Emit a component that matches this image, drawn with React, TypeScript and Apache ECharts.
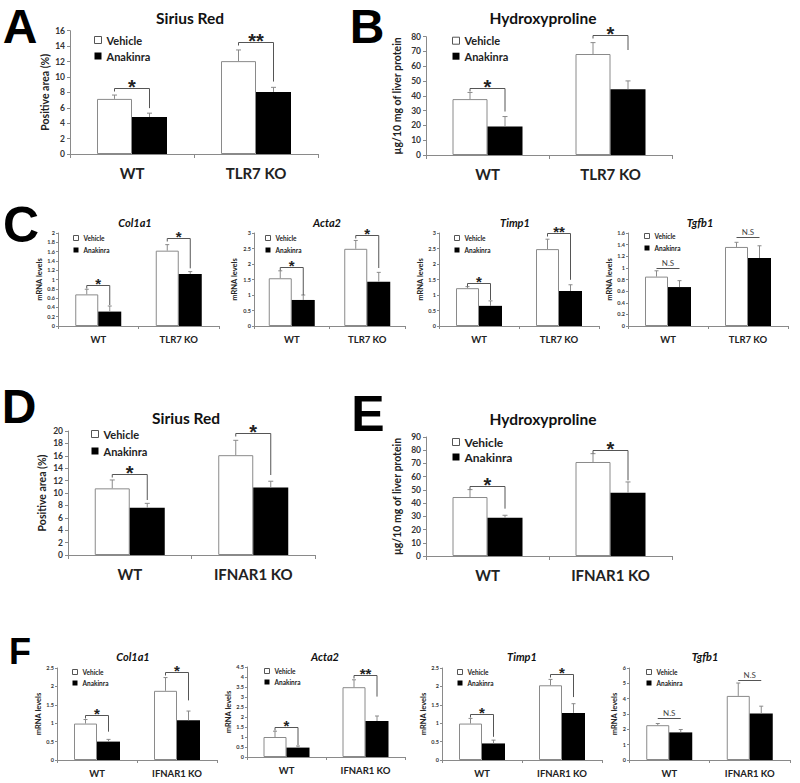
import React, { useEffect, useRef } from "react";
import * as echarts from "echarts";

// ---------- DATA ----------
const groupsTLR7 = ["WT", "TLR7 KO"];
const groupsIFNAR1 = ["WT", "IFNAR1 KO"];
const seriesNames = ["Vehicle", "Anakinra"];

// A – Sirius Red (TLR7)
const aVehicle = [7.15, 12.05];
const aVehicleErr = [0.5, 1.45];
const aAnakinra = [4.8, 8.05];
const aAnakinraErr = [0.5, 0.6];
const aSig = ["*", "**"];
const aSigLevel = [8.6, 14.5];
const aSigDrop = [5.95, 9.4];

// B – Hydroxyproline (TLR7)
const bVehicle = [37.8, 68.3];
const bVehicleErr = [4.5, 7.7];
const bAnakinra = [19.3, 44.5];
const bAnakinraErr = [6.7, 5.6];
const bSig = ["*", "*"];
const bSigLevel = [45.2, 81.1];
const bSigDrop = [29.4, 71];

// C – mRNA (TLR7)
const c1Vehicle = [0.68, 1.62];
const c1VehicleErr = [0.11, 0.13];
const c1Anakinra = [0.31, 1.12];
const c1AnakinraErr = [0.12, 0.05];
const c1Sig = ["*", "*"];
const c1SigLevel = [0.885, 1.89];
const c1SigDrop = [0.45, 1.24];

const c2Vehicle = [1.54, 2.49];
const c2VehicleErr = [0.24, 0.27];
const c2Anakinra = [0.84, 1.43];
const c2AnakinraErr = [0.16, 0.3];
const c2Sig = ["*", "*"];
const c2SigLevel = [1.89, 2.94];
const c2SigDrop = [1.0, 1.87];

const c3Vehicle = [1.22, 2.48];
const c3VehicleErr = [0.05, 0.32];
const c3Anakinra = [0.65, 1.13];
const c3AnakinraErr = [0.16, 0.2];
const c3Sig = ["*", "**"];
const c3SigLevel = [1.4, 3.0];
const c3SigDrop = [0.84, 1.49];

const c4Vehicle = [0.85, 1.36];
const c4VehicleErr = [0.1, 0.08];
const c4Anakinra = [0.67, 1.17];
const c4AnakinraErr = [0.11, 0.21];
const c4Sig = ["N.S", "N.S"];
const c4SigLevel = [1.0, 1.53];
const c4SigDrop = [1.0, 1.53];

// D – Sirius Red (IFNAR1)
const dVehicle = [10.75, 16.1];
const dVehicleErr = [1.35, 2.4];
const dAnakinra = [7.63, 10.9];
const dAnakinraErr = [0.7, 1.0];
const dSig = ["*", "*"];
const dSigLevel = [13.0, 19.7];
const dSigDrop = [8.87, 12.9];

// E – Hydroxyproline (IFNAR1)
const eVehicle = [44.6, 71.1];
const eVehicleErr = [5.6, 6.3];
const eAnakinra = [29, 47.9];
const eAnakinraErr = [1.8, 8.1];
const eSig = ["*", "*"];
const eSigLevel = [52.7, 79.9];
const eSigDrop = [35.8, 57.2];

// F – mRNA (IFNAR1)
const f1Vehicle = [0.99, 1.88];
const f1VehicleErr = [0.11, 0.36];
const f1Anakinra = [0.5, 1.08];
const f1AnakinraErr = [0.06, 0.25];
const f1Sig = ["*", "*"];
const f1SigLevel = [1.22, 2.39];
const f1SigDrop = [0.77, 1.62];

const f2Vehicle = [1.0, 3.49];
const f2VehicleErr = [0.29, 0.37];
const f2Anakinra = [0.47, 1.8];
const f2AnakinraErr = [0.08, 0.25];
const f2Sig = ["*", "**"];
const f2SigLevel = [1.51, 4.11];
const f2SigDrop = [0.59, 3.02];

const f3Vehicle = [0.99, 2.03];
const f3VehicleErr = [0.14, 0.16];
const f3Anakinra = [0.45, 1.28];
const f3AnakinraErr = [0.09, 0.25];
const f3Sig = ["*", "*"];
const f3SigLevel = [1.24, 2.35];
const f3SigDrop = [0.63, 1.71];

const f4Vehicle = [2.27, 4.18];
const f4VehicleErr = [0.11, 0.84];
const f4Anakinra = [1.8, 3.03];
const f4AnakinraErr = [0.19, 0.48];
const f4Sig = ["N.S", "N.S"];
const f4SigLevel = [2.71, 5.2];
const f4SigDrop = [2.71, 5.2];

// Axis settings
const yMaxes = [16, 80, 2, 3, 3, 1.6, 20, 90, 2.5, 4.5, 2.5, 6];
const ySteps = [2, 10, 0.2, 0.5, 0.5, 0.2, 2, 10, 0.5, 0.5, 0.5, 1];
const yNames = [
  "Positive area (%)",
  "µg/10 mg of liver protein",
  "mRNA levels",
  "mRNA levels",
  "mRNA levels",
  "mRNA levels",
  "Positive area (%)",
  "µg/10 mg of liver protein",
  "mRNA levels",
  "mRNA levels",
  "mRNA levels",
  "mRNA levels",
];
const titles = [
  "Sirius Red",
  "Hydroxyproline",
  "Col1a1",
  "Acta2",
  "Timp1",
  "Tgfb1",
  "Sirius Red",
  "Hydroxyproline",
  "Col1a1",
  "Acta2",
  "Timp1",
  "Tgfb1",
];
const panelLetters = ["A", "B", "C", "D", "E", "F"];

type PanelData = {
  groups: string[];
  veh: number[];
  vehErr: number[];
  ana: number[];
  anaErr: number[];
  sig: string[];
  level: number[];
  drop: number[];
};

const panelData: PanelData[] = [
  { groups: groupsTLR7, veh: aVehicle, vehErr: aVehicleErr, ana: aAnakinra, anaErr: aAnakinraErr, sig: aSig, level: aSigLevel, drop: aSigDrop },
  { groups: groupsTLR7, veh: bVehicle, vehErr: bVehicleErr, ana: bAnakinra, anaErr: bAnakinraErr, sig: bSig, level: bSigLevel, drop: bSigDrop },
  { groups: groupsTLR7, veh: c1Vehicle, vehErr: c1VehicleErr, ana: c1Anakinra, anaErr: c1AnakinraErr, sig: c1Sig, level: c1SigLevel, drop: c1SigDrop },
  { groups: groupsTLR7, veh: c2Vehicle, vehErr: c2VehicleErr, ana: c2Anakinra, anaErr: c2AnakinraErr, sig: c2Sig, level: c2SigLevel, drop: c2SigDrop },
  { groups: groupsTLR7, veh: c3Vehicle, vehErr: c3VehicleErr, ana: c3Anakinra, anaErr: c3AnakinraErr, sig: c3Sig, level: c3SigLevel, drop: c3SigDrop },
  { groups: groupsTLR7, veh: c4Vehicle, vehErr: c4VehicleErr, ana: c4Anakinra, anaErr: c4AnakinraErr, sig: c4Sig, level: c4SigLevel, drop: c4SigDrop },
  { groups: groupsIFNAR1, veh: dVehicle, vehErr: dVehicleErr, ana: dAnakinra, anaErr: dAnakinraErr, sig: dSig, level: dSigLevel, drop: dSigDrop },
  { groups: groupsIFNAR1, veh: eVehicle, vehErr: eVehicleErr, ana: eAnakinra, anaErr: eAnakinraErr, sig: eSig, level: eSigLevel, drop: eSigDrop },
  { groups: groupsIFNAR1, veh: f1Vehicle, vehErr: f1VehicleErr, ana: f1Anakinra, anaErr: f1AnakinraErr, sig: f1Sig, level: f1SigLevel, drop: f1SigDrop },
  { groups: groupsIFNAR1, veh: f2Vehicle, vehErr: f2VehicleErr, ana: f2Anakinra, anaErr: f2AnakinraErr, sig: f2Sig, level: f2SigLevel, drop: f2SigDrop },
  { groups: groupsIFNAR1, veh: f3Vehicle, vehErr: f3VehicleErr, ana: f3Anakinra, anaErr: f3AnakinraErr, sig: f3Sig, level: f3SigLevel, drop: f3SigDrop },
  { groups: groupsIFNAR1, veh: f4Vehicle, vehErr: f4VehicleErr, ana: f4Anakinra, anaErr: f4AnakinraErr, sig: f4Sig, level: f4SigLevel, drop: f4SigDrop },
];

// ---------- LAYOUT (positions / sizes, not data) ----------
type Layout = {
  box: [number, number, number, number];
  big: boolean;
  title: [number, number];
  legend: [number, number, number];
  nameGap: number;
};
const layouts: Layout[] = [
  { box: [70, 30.7, 248, 123.3], big: true, title: [190, 18], legend: [96, 40, 16], nameGap: 20 },
  { box: [426, 36.7, 246, 118.3], big: true, title: [543, 18], legend: [454, 40.7, 15.5], nameGap: 24 },
  { box: [58, 233, 161, 93], big: false, title: [135, 222], legend: [75, 238, 12], nameGap: 13 },
  { box: [254, 233, 151, 93], big: false, title: [327, 222], legend: [267, 238, 12], nameGap: 16 },
  { box: [439, 233, 160, 93], big: false, title: [515, 222], legend: [456, 238, 12], nameGap: 14 },
  { box: [628, 233, 160, 93], big: false, title: [700, 222], legend: [646, 236, 12], nameGap: 13 },
  { box: [68, 431, 247, 124], big: true, title: [186, 418], legend: [93, 434, 17], nameGap: 21 },
  { box: [426, 437, 246, 119], big: true, title: [543, 419], legend: [454, 442, 15], nameGap: 24 },
  { box: [57, 668, 160, 92], big: false, title: [133, 656], legend: [74, 672, 11], nameGap: 13 },
  { box: [247, 667, 158, 90], big: false, title: [325, 656], legend: [266, 671, 11], nameGap: 10 },
  { box: [442, 668, 160, 92], big: false, title: [522, 656], legend: [459, 672, 11], nameGap: 13 },
  { box: [629, 668, 161, 92], big: false, title: [705, 656], legend: [648, 672, 11], nameGap: 11 },
];
const letterPos: [number, number, number][] = [
  [20, 26, 48],
  [367, 26, 48],
  [21, 225, 50],
  [19, 406, 48],
  [368, 414, 50],
  [20, 651, 36],
];

const FONT = "Lato, 'Liberation Sans', sans-serif";
const STAR_FONT = "'Liberation Sans', Arial, sans-serif";

function errorRender(side: number, bw: number, cap: number) {
  return (params: any, api: any) => {
    const c = api.value(0);
    const m = api.value(1);
    const e = api.value(2);
    const p0 = api.coord([c, m]);
    const p1 = api.coord([c, m + e]);
    const x = p0[0] + (side * bw) / 2;
    const st = { stroke: "#8a8a8a", lineWidth: 1 };
    return {
      type: "group",
      children: [
        { type: "line", shape: { x1: x, y1: p0[1], x2: x, y2: p1[1] }, style: st },
        { type: "line", shape: { x1: x - cap / 2, y1: p1[1], x2: x + cap / 2, y2: p1[1] }, style: st },
      ],
    };
  };
}

function sigRender(bw: number, labels: string[], big: boolean) {
  return (params: any, api: any) => {
    const c = api.value(0);
    const lvl = api.value(1);
    const drop = api.value(2);
    const pl = api.coord([c, lvl]);
    const y = Math.round(pl[1]) + 0.5;
    const xl = pl[0] - bw / 2;
    const xr = pl[0] + bw / 2;
    const st = { stroke: "#555", lineWidth: 1 };
    const children: any[] = [{ type: "line", shape: { x1: xl, y1: y, x2: xr, y2: y }, style: st }];
    const label = labels[params.dataIndex];
    if (drop < lvl) {
      const pd = api.coord([c, drop]);
      children.push({ type: "line", shape: { x1: xl, y1: y, x2: xl, y2: y + 3 }, style: st });
      children.push({ type: "line", shape: { x1: xr, y1: y, x2: xr, y2: pd[1] }, style: st });
      const fs = big ? 20 : 15;
      children.push({
        type: "text",
        x: pl[0],
        y: y - 5.5 + 0.22 * fs,
        style: {
          text: label,
          font: `bold ${fs}px ${STAR_FONT}`,
          fill: "#222",
          align: "center",
          verticalAlign: "middle",
          textAlign: "center",
          textVerticalAlign: "middle",
        },
      });
    } else {
      children.push({
        type: "text",
        x: pl[0],
        y: y - 2,
        style: {
          text: label,
          font: `8px ${FONT}`,
          fill: "#444",
          align: "center",
          verticalAlign: "bottom",
          textAlign: "center",
          textVerticalAlign: "bottom",
        },
      });
    }
    return { type: "group", children };
  };
}

function buildOption() {
  const grid: any[] = [];
  const xAxis: any[] = [];
  const yAxis: any[] = [];
  const legend: any[] = [];
  const series: any[] = [];
  const graphic: any[] = [];

  panelData.forEach((p, i) => {
    const l = layouts[i];
    const big = l.big;
    const bw = big ? 35 : 23;
    grid.push({
      left: l.box[0],
      top: l.box[1],
      width: l.box[2],
      height: l.box[3],
      containLabel: false,
      outerBoundsMode: "none",
    });
    xAxis.push({
      type: "category",
      gridIndex: i,
      data: p.groups,
      axisLine: { show: true, lineStyle: { color: "#8a8a8a", width: 1 } },
      axisTick: { show: true, length: big ? 4 : 3, lineStyle: { color: "#8a8a8a" } },
      axisLabel: {
        interval: 0,
        fontFamily: FONT,
        fontWeight: "bold",
        fontSize: big ? 15 : 9.5,
        color: "#222",
        margin: big ? 11 : 8,
      },
      splitLine: { show: false },
    });
    yAxis.push({
      type: "value",
      gridIndex: i,
      min: 0,
      max: yMaxes[i],
      interval: ySteps[i],
      name: yNames[i],
      nameLocation: "middle",
      nameGap: l.nameGap,
      nameTextStyle: {
        fontFamily: FONT,
        fontWeight: "bold",
        fontSize: big ? 10.5 : 7.5,
        color: "#222",
      },
      axisLine: { show: true, lineStyle: { color: "#8a8a8a", width: 1 } },
      axisTick: { show: true, length: big ? 3 : 2, lineStyle: { color: "#8a8a8a" } },
      axisLabel: {
        fontFamily: FONT,
        fontWeight: "bold",
        fontSize: big ? 8.5 : 5.5,
        color: "#333",
        margin: big ? 5 : 3,
      },
      splitLine: { show: false },
    });
    const lineH = big ? 12 : 8;
    const icon = big ? 7 : 5;
    legend.push({
      orient: "vertical",
      left: l.legend[0] - 2,
      top: l.legend[1] - lineH / 2,
      itemWidth: icon,
      itemHeight: icon,
      itemGap: l.legend[2] - lineH,
      padding: 0,
      selectedMode: false,
      textStyle: {
        fontFamily: FONT,
        fontWeight: "bold",
        fontSize: big ? (i === 7 ? 12 : 11) : 6.5,
        color: "#222",
        lineHeight: lineH,
      },
      data: [
        { name: seriesNames[0], icon: "rect", itemStyle: { color: "#fff", borderColor: "#555", borderWidth: 1 }, textStyle: { color: "#222" } },
        { name: seriesNames[1], icon: "rect", itemStyle: { color: "#000", borderWidth: 0 }, textStyle: { color: "#222" } },
      ],
    });
    series.push({
      type: "bar",
      name: seriesNames[0],
      xAxisIndex: i,
      yAxisIndex: i,
      data: p.veh,
      barWidth: bw,
      barGap: "0%",
      itemStyle: { color: "#fff", borderColor: "#8a8a8a", borderWidth: 1 },
      z: 2,
    });
    series.push({
      type: "bar",
      name: seriesNames[1],
      xAxisIndex: i,
      yAxisIndex: i,
      data: p.ana,
      barWidth: bw,
      barGap: "0%",
      itemStyle: { color: "#000", borderWidth: 0 },
      z: 2,
    });
    series.push({
      type: "custom",
      name: "err-veh-" + i,
      coordinateSystem: "cartesian2d",
      xAxisIndex: i,
      yAxisIndex: i,
      renderItem: errorRender(-1, bw, big ? 5 : 4),
      data: p.veh.map((v, k) => [k, v, p.vehErr[k]]),
      z: 3,
      silent: true,
    });
    series.push({
      type: "custom",
      name: "err-ana-" + i,
      coordinateSystem: "cartesian2d",
      xAxisIndex: i,
      yAxisIndex: i,
      renderItem: errorRender(1, bw, big ? 5 : 4),
      data: p.ana.map((v, k) => [k, v, p.anaErr[k]]),
      z: 3,
      silent: true,
    });
    series.push({
      type: "custom",
      name: "sig-" + i,
      coordinateSystem: "cartesian2d",
      xAxisIndex: i,
      yAxisIndex: i,
      renderItem: sigRender(bw, p.sig, big),
      data: p.level.map((v, k) => [k, v, p.drop[k]]),
      clip: false,
      z: 4,
      silent: true,
    });

    const italic = !big;
    graphic.push({
      type: "text",
      x: l.title[0],
      y: l.title[1],
      style: {
        text: titles[i],
        font: `${italic ? "italic " : ""}bold ${big ? 15.5 : 11}px ${FONT}`,
        fill: "#111",
        align: "center",
        verticalAlign: "middle",
        textAlign: "center",
        textVerticalAlign: "middle",
      },
    });
  });

  panelLetters.forEach((t, k) => {
    const [x, y, fs] = letterPos[k];
    graphic.push({
      type: "text",
      x,
      y,
      style: {
        text: t,
        font: `bold ${fs}px 'Liberation Sans', Arial, sans-serif`,
        fill: "#000",
        align: "center",
        verticalAlign: "middle",
        textAlign: "center",
        textVerticalAlign: "middle",
      },
    });
  });

  return {
    animation: false,
    backgroundColor: "#fff",
    grid,
    xAxis,
    yAxis,
    legend,
    series,
    graphic,
  };
}

export default function App() {
  const ref = useRef<HTMLDivElement>(null);
  useEffect(() => {
    document.body.style.margin = "0";
    if (!ref.current) return;
    const chart = echarts.init(ref.current, null, { renderer: "svg" });
    chart.setOption(buildOption() as any);
    return () => chart.dispose();
  }, []);
  return <div ref={ref} style={{ width: 800, height: 783 }} />;
}
